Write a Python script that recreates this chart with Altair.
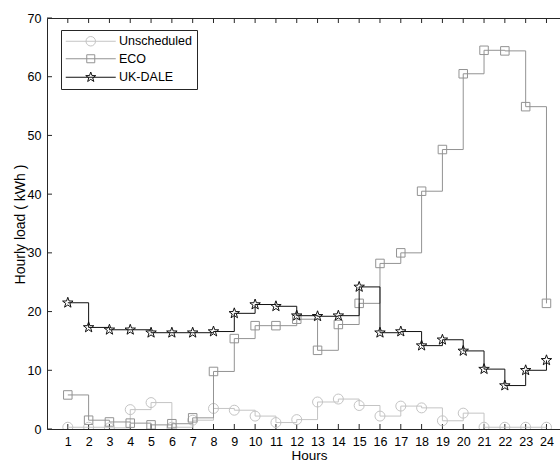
import math
import altair as alt
import pandas as pd

hours = list(range(1, 25))
series_names = ["Unscheduled", "ECO", "UK-DALE"]
unscheduled = [0.3, 0.3, 0.2, 3.3, 4.5, 0.3, 1.5, 3.5, 3.2, 2.2, 1.1, 1.6,
               4.6, 5.1, 4.0, 2.2, 3.9, 3.6, 1.4, 2.7, 0.3, 0.3, 0.3, 0.3]
eco = [5.8, 1.5, 1.2, 1.0, 0.7, 0.9, 1.9, 9.8, 15.4, 17.6, 17.6, 18.7,
       13.4, 17.8, 21.4, 28.2, 30.0, 40.5, 47.6, 60.5, 64.5, 64.4, 54.9, 21.4]
ukdale = [21.5, 17.3, 16.9, 16.9, 16.4, 16.4, 16.4, 16.6, 19.7, 21.2, 20.9, 19.3,
          19.2, 19.3, 24.2, 16.4, 16.6, 14.2, 15.2, 13.3, 10.2, 7.4, 10.0, 11.7]
x_ticks = list(range(1, 25))
y_ticks = list(range(0, 71, 10))

colors = ["#c4c4c4", "#939393", "#111111"]

rows = []
for name, vals in zip(series_names, [unscheduled, eco, ukdale]):
    for h, v in zip(hours, vals):
        rows.append({"hour": h, "load": v, "series": name})
df = pd.DataFrame(rows)
xt = pd.DataFrame({"t": x_ticks})
yt = pd.DataFrame({"t": y_ticks})


def circle_path(r):
    return f"M{r},0A{r},{r} 0 1,1 {-r},0A{r},{r} 0 1,1 {r},0Z"


def square_path(a):
    return f"M{-a},{-a}H{a}V{a}H{-a}Z"


def star_path(R, ratio=0.4):
    pts = []
    for i in range(10):
        ang = -math.pi / 2 + i * math.pi / 5
        rr = R if i % 2 == 0 else R * ratio
        pts.append(f"{rr * math.cos(ang):.3f},{rr * math.sin(ang):.3f}")
    return "M" + "L".join(pts) + "Z"


plot_shapes = [circle_path(1.0), square_path(0.85), star_path(1.1)]
L = 5.0
legend_shapes = [f"M{-L},0H{L}" + s for s in
                 [circle_path(0.95), square_path(0.8), star_path(1.05)]]

W = 513
H = 411
xdom = [0, 24.65]

xscale = alt.Scale(domain=xdom, nice=False, zero=False)
yscale = alt.Scale(domain=[0, 70], nice=False)

axis_color = "#262626"
FONT = "Liberation Sans"

bottom_axis = alt.Axis(values=x_ticks, ticks=False, labelPadding=6,
                       grid=False, domainColor=axis_color,
                       labelColor="#000000", labelFontSize=12.5, title="Hours",
                       titleFontSize=13.5, titleFontWeight="normal", titleColor="#000000",
                       titleX=262, titleY=26, titleBaseline="middle", labelFont=FONT,
                       titleFont=FONT, orient="bottom")
top_axis = alt.Axis(values=x_ticks, ticks=False, labels=False, grid=False,
                    domainColor=axis_color, title=None, orient="top")
left_axis = alt.Axis(values=y_ticks, ticks=False, labelPadding=6, grid=False,
                     domainColor=axis_color, labelColor="#000000",
                     labelFontSize=12.5, title="Hourly load ( kWh )", titleFontSize=14,
                     titleFontWeight="normal", titleColor="#000000", titleX=-27,
                     titleY=206, titleBaseline="middle", titleAngle=-90,
                     labelFont=FONT, titleFont=FONT, orient="left")

layers = []

# inward tick marks drawn from the tick arrays
layers.append(alt.Chart(xt).mark_rule(color=axis_color, strokeWidth=1).encode(
    x=alt.X("t:Q", scale=xscale, axis=bottom_axis),
    y=alt.value(H), y2=alt.value(H - 5)))
layers.append(alt.Chart(xt).mark_rule(color=axis_color, strokeWidth=1).encode(
    x=alt.X("t:Q", scale=xscale, axis=top_axis),
    y=alt.value(0), y2=alt.value(5)))
layers.append(alt.Chart(yt).mark_rule(color=axis_color, strokeWidth=1).encode(
    y=alt.Y("t:Q", scale=yscale, axis=left_axis),
    x=alt.value(0), x2=alt.value(5)))

for i, (name, col, shp) in enumerate(zip(series_names, colors, plot_shapes)):
    base = alt.Chart(df).transform_filter(alt.datum.series == name)
    line = base.mark_line(interpolate="step-after", color=col, strokeWidth=1, clip=True).encode(
        x=alt.X("hour:Q", scale=xscale, axis=None),
        y=alt.Y("load:Q", scale=yscale, axis=None),
    )
    pts = base.mark_point(shape=shp, size=100, filled=False, color=col, strokeWidth=1,
                          opacity=1, clip=True).encode(
        x=alt.X("hour:Q", scale=xscale, axis=None),
        y=alt.Y("load:Q", scale=yscale, axis=None),
    )
    layers += [line, pts]

leg = alt.Legend(title=None, orient="none", legendX=14, legendY=12,
                 symbolOffset=18.5, labelOffset=22, padding=5,
                 rowPadding=4.5, labelFontSize=12.5,
                 labelFont=FONT, labelColor="#000000",
                 strokeColor=axis_color, fillColor="#ffffff",
                 symbolStrokeWidth=1, symbolSize=100, cornerRadius=0)

legend_layer = alt.Chart(df).transform_filter("false").mark_point(
    filled=False, size=100, strokeWidth=1, opacity=1).encode(
    shape=alt.Shape("series:N", scale=alt.Scale(domain=series_names, range=legend_shapes),
                    legend=leg),
    color=alt.Color("series:N", scale=alt.Scale(domain=series_names, range=colors),
                    legend=leg),
)
layers.append(legend_layer)

chart = alt.layer(*layers).resolve_axis(x="independent", y="independent").properties(
    width=W, height=H,
    autosize=alt.AutoSizeParams(type="none"),
    padding={"left": 47, "top": 18, "right": 0, "bottom": 36},
    background="white",
).configure_view(stroke=None).configure_axis(domainWidth=1)

chart.save("out.html", embed_options={"renderer": "svg", "actions": False})
